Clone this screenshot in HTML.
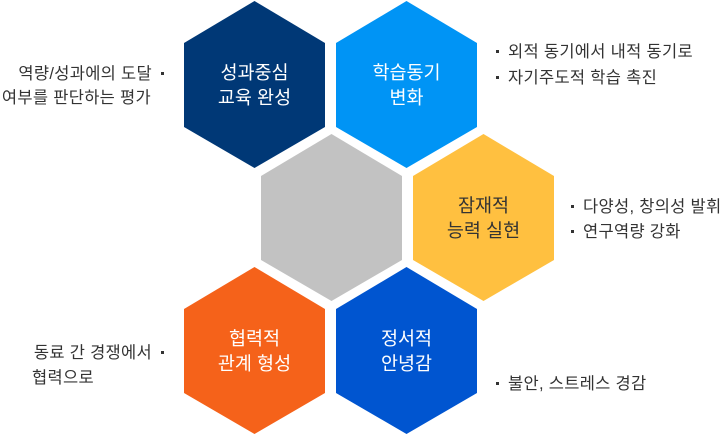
<!DOCTYPE html>
<html><head><meta charset="utf-8"><style>
body{margin:0;width:727px;height:434px;background:#fff;position:relative;overflow:hidden;font-family:"Liberation Sans","Noto Sans CJK KR",sans-serif}
svg{position:absolute;left:0;top:0}
.t{position:absolute;font-size:16.5px;color:#333;white-space:nowrap;line-height:20px;letter-spacing:0.3px}
.r{text-align:right}
.b{display:inline-block;width:3px;height:3px;background:#333;vertical-align:middle;margin-right:9px;position:relative;top:-1px}
.bl{display:inline-block;width:3px;height:3px;background:#333;vertical-align:middle;margin-left:9px;position:relative;top:-1px}
</style></head><body>
<svg width="727" height="434" font-family="Liberation Sans, Noto Sans CJK KR, sans-serif" font-size="18.5" text-anchor="middle">
<polygon points="254.5,1 325,43 325,127 254.5,168 184,127 184,43" fill="#003876"/>
<polygon points="406.5,1 477,43 477,127 406.5,168 336,127 336,43" fill="#0094f5"/>
<polygon points="331.5,134 402,176 402,260 331.5,301 261,260 261,176" fill="#c2c2c2"/>
<polygon points="483.5,134 554,176 554,260 483.5,301 413,260 413,176" fill="#ffc040"/>
<polygon points="254.5,267 325,309 325,393 254.5,434 184,393 184,309" fill="#f5621a"/>
<polygon points="406.5,267 477,309 477,393 406.5,434 336,393 336,309" fill="#0055d0"/>
<g fill="#fff">
<text x="254.5" y="79">성과중심</text><text x="254.5" y="104">교육 완성</text>
<text x="406.5" y="79">학습동기</text><text x="406.5" y="104">변화</text>
<text x="254.5" y="345">협력적</text><text x="254.5" y="370">관계 형성</text>
<text x="406.5" y="345">정서적</text><text x="406.5" y="370">안녕감</text>
</g>
<g fill="#333"><text x="483.5" y="212">잠재적</text><text x="483.5" y="237">능력 실현</text></g>
</svg>
<div class="t r" style="right:563px;top:64px">역량/성과에의 도달<span class="bl"></span></div>
<div class="t r" style="right:576px;top:88px">여부를 판단하는 평가</div>
<div class="t" style="left:496px;top:42px"><span class="b"></span>외적 동기에서 내적 동기로</div>
<div class="t" style="left:496px;top:68px"><span class="b"></span>자기주도적 학습 촉진</div>
<div class="t" style="left:571px;top:197px"><span class="b"></span>다양성, 창의성 발휘</div>
<div class="t" style="left:571px;top:222px"><span class="b"></span>연구역량 강화</div>
<div class="t r" style="right:563px;top:343px">동료 간 경쟁에서<span class="bl"></span></div>
<div class="t" style="left:32px;top:368px">협력으로</div>
<div class="t" style="left:496px;top:374px"><span class="b"></span>불안, 스트레스 경감</div>
</body></html>
